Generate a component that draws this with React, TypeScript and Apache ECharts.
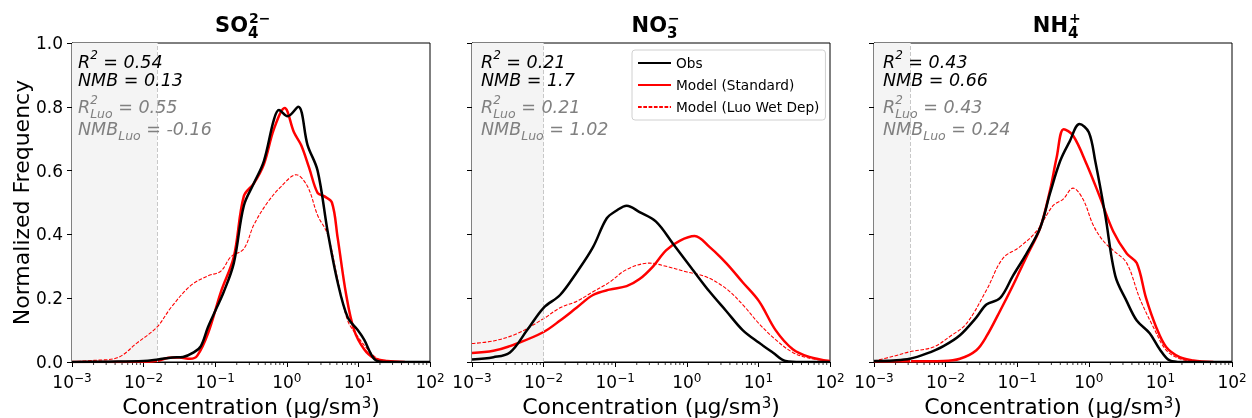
import React, { useEffect, useRef } from 'react';
import * as echarts from 'echarts';

// ---- data: [log10(concentration), normalized frequency] ----
const so4Obs: [number, number][] = [[-3,0],[-2.5,0.001],[-2,0.003],[-1.8,0.008],[-1.6,0.014],[-1.45,0.016],[-1.3,0.03],[-1.2,0.05],[-1.1,0.11],[-1.0,0.16],[-0.88,0.22],[-0.74,0.31],[-0.6,0.49],[-0.46,0.56],[-0.32,0.63],[-0.18,0.76],[-0.11,0.79],[0.01,0.77],[0.16,0.80],[0.29,0.68],[0.43,0.60],[0.57,0.41],[0.71,0.25],[0.85,0.14],[0.99,0.10],[1.08,0.07],[1.22,0.01],[1.35,0.0],[2,0]];
const so4Std: [number, number][] = [[-3,0],[-2,0.001],[-1.8,0.004],[-1.65,0.013],[-1.5,0.014],[-1.35,0.01],[-1.25,0.02],[-1.1,0.09],[-0.92,0.22],[-0.74,0.33],[-0.6,0.52],[-0.46,0.56],[-0.32,0.62],[-0.18,0.73],[-0.03,0.796],[0.1,0.72],[0.2,0.68],[0.31,0.61],[0.43,0.53],[0.52,0.52],[0.63,0.50],[0.71,0.39],[0.83,0.21],[0.94,0.10],[1.08,0.04],[1.22,0.012],[1.4,0.003],[1.65,0]];
const so4Luo: [number, number][] = [[-3,0.001],[-2.7,0.005],[-2.37,0.013],[-2.09,0.06],[-1.81,0.11],[-1.62,0.17],[-1.34,0.24],[-1.1,0.27],[-0.92,0.285],[-0.78,0.33],[-0.6,0.355],[-0.46,0.43],[-0.27,0.50],[-0.08,0.55],[0.13,0.587],[0.29,0.55],[0.43,0.46],[0.57,0.40],[0.71,0.26],[0.85,0.13],[0.99,0.08],[1.13,0.04],[1.27,0.01],[1.45,0.0]];

const no3Obs: [number, number][] = [[-3,0.008],[-2.7,0.015],[-2.47,0.03],[-2.23,0.10],[-2.0,0.17],[-1.77,0.21],[-1.54,0.28],[-1.31,0.36],[-1.12,0.45],[-0.98,0.475],[-0.84,0.49],[-0.66,0.47],[-0.43,0.44],[-0.19,0.37],[0.08,0.29],[0.32,0.22],[0.55,0.16],[0.78,0.10],[1.01,0.06],[1.2,0.03],[1.38,0.003],[1.6,0],[2,0]];
const no3Std: [number, number][] = [[-3,0.028],[-2.7,0.035],[-2.37,0.058],[-2.0,0.094],[-1.77,0.13],[-1.54,0.17],[-1.31,0.21],[-1.08,0.227],[-0.84,0.238],[-0.66,0.26],[-0.47,0.30],[-0.29,0.35],[-0.1,0.38],[0.11,0.395],[0.32,0.36],[0.55,0.31],[0.78,0.25],[1.01,0.19],[1.24,0.10],[1.48,0.04],[1.71,0.016],[2,0.003]];
const no3Luo: [number, number][] = [[-3,0.058],[-2.7,0.066],[-2.37,0.089],[-2.0,0.136],[-1.77,0.17],[-1.54,0.19],[-1.31,0.22],[-1.08,0.25],[-0.84,0.29],[-0.52,0.31],[-0.29,0.30],[-0.01,0.283],[0.27,0.267],[0.55,0.23],[0.78,0.18],[1.01,0.12],[1.24,0.07],[1.48,0.03],[1.71,0.012],[2,0.003]];

const nh4Obs: [number, number][] = [[-3,0.003],[-2.73,0.005],[-2.5,0.01],[-2.27,0.026],[-2.03,0.05],[-1.8,0.084],[-1.57,0.14],[-1.43,0.18],[-1.24,0.20],[-1.06,0.27],[-0.87,0.34],[-0.68,0.42],[-0.54,0.53],[-0.4,0.63],[-0.27,0.69],[-0.13,0.746],[0.0,0.72],[0.09,0.63],[0.23,0.46],[0.37,0.27],[0.53,0.19],[0.67,0.13],[0.85,0.09],[0.99,0.04],[1.13,0.005],[1.3,0],[2,0]];
const nh4Std: [number, number][] = [[-3,0.002],[-2.5,0.002],[-2.03,0.003],[-1.8,0.01],[-1.57,0.037],[-1.43,0.08],[-1.24,0.16],[-1.06,0.24],[-0.87,0.33],[-0.68,0.42],[-0.54,0.54],[-0.45,0.64],[-0.35,0.73],[-0.22,0.71],[-0.03,0.62],[0.15,0.52],[0.34,0.41],[0.53,0.34],[0.67,0.31],[0.8,0.20],[0.94,0.11],[1.08,0.047],[1.27,0.015],[1.46,0.005],[1.74,0]];
const nh4Luo: [number, number][] = [[-3,0.003],[-2.73,0.018],[-2.5,0.032],[-2.17,0.047],[-1.94,0.08],[-1.71,0.12],[-1.43,0.225],[-1.2,0.325],[-0.97,0.36],[-0.73,0.41],[-0.5,0.49],[-0.36,0.51],[-0.22,0.545],[-0.08,0.51],[0.06,0.43],[0.2,0.38],[0.34,0.35],[0.53,0.31],[0.71,0.20],[0.9,0.11],[1.08,0.037],[1.27,0.01],[1.46,0.002]];

const seriesNames = ['Obs', 'Model (Standard)', 'Model (Luo Wet Dep)'];
const panelData = [
  [so4Obs, so4Std, so4Luo],
  [no3Obs, no3Std, no3Luo],
  [nh4Obs, nh4Std, nh4Luo],
];
const titleMain = ['SO', 'NO', 'NH'];
const titleSup = ['2\u2212', '\u2212', '+'];
const titleSub = ['4', '3', '4'];
const thresholds = [0.0155, 0.01, 0.0032];
const r2Vals = ['0.54', '0.21', '0.43'];
const nmbVals = ['0.13', '1.7', '0.66'];
const r2LuoVals = ['0.55', '0.21', '0.43'];
const nmbLuoVals = ['-0.16', '1.02', '0.24'];
const yTicks = [0, 0.2, 0.4, 0.6, 0.8, 1.0];
const decades = [0.001, 0.01, 0.1, 1, 10];
const minorMultipliers = [2, 3, 4, 5, 6, 7, 8, 9];

const FONT = 'DejaVu Sans';
const gridLefts = [72, 472, 874];
const gridWidth = 358;
const gridTop = 43;
const gridHeight = 319;
const titleAnchorX = [248, 667, 1068];
const annoX = [78, 481, 883];

export default function App() {
  const ref = useRef<HTMLDivElement>(null);
  useEffect(() => {
    if (!ref.current) return;
    const chart = echarts.init(ref.current, undefined, { renderer: 'svg' });
    const minorTicks: number[] = [];
    decades.forEach((d) => minorMultipliers.forEach((m) => minorTicks.push(d * m)));

    const grid = gridLefts.map((l) => ({
      left: l, top: gridTop, width: gridWidth, height: gridHeight,
      outerBoundsMode: 'none', containLabel: false,
      show: true, borderColor: '#000', borderWidth: 1, backgroundColor: 'transparent',
    }));

    const xAxis = gridLefts.map((_, i) => ({
      type: 'log', logBase: 10, min: 0.001, max: 100, gridIndex: i,
      axisLine: { show: true, lineStyle: { color: '#000', width: 1 } },
      axisTick: { show: true, length: 5, lineStyle: { color: '#000', width: 1 } },
      splitLine: { show: false },
      axisLabel: {
        color: '#000', margin: 10, showMinLabel: true, showMaxLabel: true,
        formatter: (v: number) => {
          const e = Math.round(Math.log10(v));
          return `{b|10}{s|${e < 0 ? '\u2212' : ''}${Math.abs(e)}}`;
        },
        rich: {
          b: { fontSize: 17, lineHeight: 20, fontFamily: FONT, color: '#000' },
          s: { fontSize: 12, lineHeight: 12, verticalAlign: 'top', fontFamily: FONT, color: '#000' },
        },
      },
      name: 'Concentration (\u03bcg/sm{s|3})',
      nameLocation: 'middle', nameGap: 31,
      nameTextStyle: {
        fontSize: 22, fontFamily: FONT, color: '#000', lineHeight: 22,
        rich: { s: { fontSize: 15, lineHeight: 13, verticalAlign: 'top', fontFamily: FONT, color: '#000' } },
      },
    }));

    const yAxis = gridLefts.map((_, i) => ({
      type: 'value', min: 0, max: 1, interval: 0.2, gridIndex: i,
      axisLine: { show: true, lineStyle: { color: '#000', width: 1 } },
      axisTick: { show: true, length: 5, lineStyle: { color: '#000', width: 1 } },
      splitLine: { show: false },
      axisLabel: {
        show: i === 0, color: '#000', fontSize: 17, fontFamily: FONT, margin: 9,
        formatter: (v: number) => (yTicks.includes(Math.round(v * 10) / 10) ? v.toFixed(1) : ''),
      },
      name: i === 0 ? 'Normalized Frequency' : '',
      nameLocation: 'middle', nameGap: 37,
      nameTextStyle: { fontSize: 22, fontFamily: FONT, color: '#000' },
    }));

    const series: any[] = [];
    panelData.forEach((curves, i) => {
      const styles = [
        { color: '#000000', width: 2.5, type: 'solid' },
        { color: '#ff0000', width: 2.5, type: 'solid' },
        { color: '#ff0000', width: 1.1, type: [3.7, 1.6] },
      ];
      curves.forEach((pts, k) => {
        const s: any = {
          type: 'line', name: seriesNames[k], xAxisIndex: i, yAxisIndex: i,
          data: pts.map(([lx, y]) => [Math.pow(10, lx), y]),
          smooth: 0.35, symbol: 'none', showSymbol: false,
          lineStyle: styles[k], itemStyle: { color: styles[k].color },
          z: 3 + (2 - k),
        };
        if (k === 0) {
          s.markArea = {
            silent: true, itemStyle: { color: '#f4f4f4' },
            data: [[{ xAxis: 0.001 }, { xAxis: thresholds[i] }]],
          };
          s.markLine = {
            silent: true, symbol: 'none', label: { show: false }, precision: 8,
            lineStyle: { color: '#c8c8c8', type: [4, 2], width: 1 },
            data: [[{ coord: [thresholds[i], 0] }, { coord: [thresholds[i], 1] }]],
          };
        }
        series.push(s);
      });
      series.push({
        type: 'custom', xAxisIndex: i, yAxisIndex: i, silent: true, clip: false,
        data: minorTicks.map((v) => [v, 0]),
        renderItem: (params: any, api: any) => {
          const p = api.coord([api.value(0), 0]);
          return {
            type: 'line',
            shape: { x1: p[0], y1: p[1], x2: p[0], y2: p[1] + 3 },
            style: { stroke: '#000', lineWidth: 0.8 },
          };
        },
      });
    });

    const richAnno = (color: string) => ({
      i: { fontSize: 17.5, fontStyle: 'italic', lineHeight: 26, fontFamily: FONT, color },
      sup: { fontSize: 12, fontStyle: 'italic', lineHeight: 12, verticalAlign: 'top', fontFamily: FONT, color },
      sup0: { fontSize: 12, fontStyle: 'italic', lineHeight: 12, verticalAlign: 'top', width: 0, fontFamily: FONT, color },
      sub: { fontSize: 12.5, fontStyle: 'italic', lineHeight: 12, verticalAlign: 'bottom', fontFamily: FONT, color },
    });
    const graphic: any[] = [];
    gridLefts.forEach((l, i) => {
      const ax = titleAnchorX[i];
      graphic.push({
        type: 'text', x: ax, y: 25,
        style: { text: titleMain[i], font: `bold 21px "${FONT}"`, fill: '#000', align: 'right', verticalAlign: 'middle' },
      });
      graphic.push({
        type: 'text', x: ax + 1, y: 18,
        style: { text: titleSup[i], font: `bold 14px "${FONT}"`, fill: '#000', align: 'left', verticalAlign: 'middle' },
      });
      graphic.push({
        type: 'text', x: ax, y: 33,
        style: { text: titleSub[i], font: `bold 15px "${FONT}"`, fill: '#000', align: 'left', verticalAlign: 'middle' },
      });
      const lines = [
        { y: 62, color: '#000', text: `{i|R}{sup|2}{i| = ${r2Vals[i]}}` },
        { y: 80, color: '#000', text: `{i|NMB = ${nmbVals[i]}}` },
        { y: 107, color: '#808080', text: `{i|R}{sup0|2}{sub|Luo}{i| = ${r2LuoVals[i]}}` },
        { y: 129, color: '#808080', text: `{i|NMB}{sub|Luo}{i| = ${nmbLuoVals[i]}}` },
      ];
      lines.forEach((ln) => {
        graphic.push({
          type: 'text', x: annoX[i], y: ln.y, z: 10,
          style: { text: ln.text, fill: ln.color, align: 'left', verticalAlign: 'middle', rich: richAnno(ln.color) },
        });
      });
    });

    chart.setOption({
      animation: false,
      textStyle: { fontFamily: FONT },
      grid, xAxis, yAxis, series, graphic,
      legend: {
        data: seriesNames, orient: 'vertical', left: 632, top: 50,
        itemWidth: 33, itemHeight: 12, itemGap: 8,
        padding: [6, 6, 6, 5],
        itemStyle: { opacity: 0 },
        backgroundColor: '#fff', borderColor: '#d0d0d0', borderWidth: 1, borderRadius: 3,
        textStyle: { fontSize: 13.7, fontFamily: FONT, color: '#000' },
        selectedMode: false,
      },
    });
    return () => chart.dispose();
  }, []);
  return <div ref={ref} style={{ position: 'fixed', left: 0, top: 0, width: 1252, height: 418 }} />;
}
